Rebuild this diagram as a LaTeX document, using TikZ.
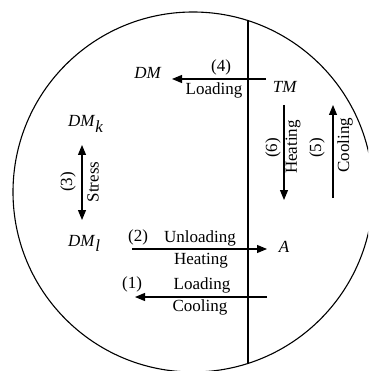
\documentclass[tikz,border=0pt]{standalone}
\usepackage{fontspec}
\setmainfont{Liberation Serif}
\usetikzlibrary{arrows.meta}
\begin{document}
\begin{tikzpicture}[x=1pt,y=-1pt,
  lbl/.style={font=\fontsize{17}{20}\selectfont, inner sep=0pt},
  rot/.style={lbl, rotate=90},
  arr/.style={line width=1.1pt, -{Triangle[length=10pt,width=8pt]}},
  darr/.style={line width=1.1pt, {Triangle[length=10pt,width=8pt]}-{Triangle[length=10pt,width=8pt]}},
  thin/.style={line width=1.1pt}]
\useasboundingbox (0,0) rectangle (368,371);
\begin{scope}
\clip (0,0) rectangle (368,371);
\draw[thin] (193,192) circle[radius=180pt];
\end{scope}
\coordinate (vt) at (248,20.6);
\coordinate (vb) at (248,363.4);
\draw[thin] (vt) -- (vb);
% labels
\node[lbl] (dm) at (148,73) {\textit{DM}};
\node[lbl] (tm) at (285,87) {\textit{TM}};
\node[lbl] (n4) at (221,67) {(4)};
\node[lbl] (l4) at (214,90) {Loading};
\node[lbl, anchor=base west] (dmk) at (68,127) {\textit{DM}$_{\textit{k}}$};
\node[lbl, anchor=base west] (dml) at (68,246) {\textit{DM}$_{\textit{l}}$};
\node[rot] (n3) at (68,182) {(3)};
\node[rot] (s3) at (93,182) {Stress};
\node[rot] (n6) at (273,148) {(6)};
\node[rot] (h6) at (293,147) {Heating};
\node[rot] (n5) at (317,148) {(5)};
\node[rot] (c5) at (345,145) {Cooling};
\node[lbl] (n2) at (138,237) {(2)};
\node[lbl] (u2) at (200,238) {Unloading};
\node[lbl] (a) at (284,247) {\textit{A}};
\node[lbl] (h2) at (201,261) {Heating};
\node[lbl] (n1) at (132,284) {(1)};
\node[lbl] (l1) at (202,285) {Loading};
\node[lbl] (c1) at (200,307) {Cooling};
% arrow end points
\coordinate (a4s) at (266,79);  \coordinate (a4e) at (172,79);
\coordinate (a3s) at (82,145);  \coordinate (a3e) at (82,220);
\coordinate (a6s) at (284,105); \coordinate (a6e) at (284,200);
\coordinate (a5s) at (333,198); \coordinate (a5e) at (333,105);
\coordinate (a2s) at (132,249); \coordinate (a2e) at (267,249);
\coordinate (a1s) at (267,297); \coordinate (a1e) at (135,297);
\draw[arr] (a4s) -- (a4e);
\draw[darr] (a3s) -- (a3e);
\draw[arr] (a6s) -- (a6e);
\draw[arr] (a5s) -- (a5e);
\draw[arr] (a2s) -- (a2e);
\draw[arr] (a1s) -- (a1e);
\end{tikzpicture}
\end{document}
